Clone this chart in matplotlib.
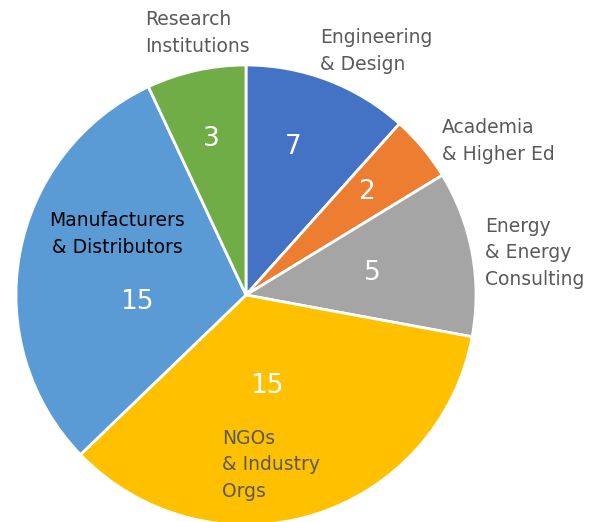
import matplotlib.pyplot as plt

# slices clockwise from 12 o'clock
categories = ['Engineering & Design', 'Academia & Higher Ed', 'Energy & Energy Consulting',
              'NGOs & Industry Orgs', 'Manufacturers & Distributors', 'Research Institutions']
# numbers printed on the slices
counts = [7, 2, 5, 15, 15, 3]
# slice sizes as drawn in the source chart (they don't follow the printed numbers)
slice_sizes = [5, 2, 5, 15, 13, 3]
colors = ['#4472C4', '#ED7D31', '#A5A5A5', '#FFC000', '#5B9BD5', '#70AD47']

labels = ['Engineering\n& Design', 'Academia\n& Higher Ed', 'Energy\n& Energy\nConsulting',
          'NGOs\n& Industry\nOrgs', 'Manufacturers\n& Distributors', 'Research\nInstitutions']

plt.rcParams['font.family'] = ['DejaVu Sans']

fig = plt.figure(figsize=(6.05, 5.22), dpi=100)
ax = fig.add_axes([0, 0, 1, 1])

CX, CY, R = 246, 295, 230

# y is inverted, so counterclock=True ends up going clockwise on screen
ax.pie(slice_sizes, colors=colors, startangle=-90, counterclock=True,
       center=(CX, CY), radius=R, frame=True,
       wedgeprops=dict(edgecolor='white', linewidth=2))
ax.set_xlim(0, 605)
ax.set_ylim(522, 0)
ax.set_aspect('equal')
ax.axis('off')

# value labels
num_pos = [(293, 147), (366, 192), (372, 273), (267, 386), (137, 302), (211, 139)]
for (x, y), v in zip(num_pos, counts):
    ax.text(x, y, str(v), color='white', fontsize=19, ha='center', va='center')

# category labels
lab_pos = [(320, 51, 'left'), (442, 141, 'left'), (485, 253, 'left'),
           (222, 465, 'left'), (117, 234, 'center'), (145, 33, 'left')]
for (x, y, ha), t, c in zip(lab_pos, labels, categories):
    col = 'black' if c.startswith('Manufacturers') else '#595959'
    ax.text(x, y, t, color=col, fontsize=13.5, ha=ha, va='center',
            linespacing=1.48, multialignment=ha)

fig.savefig('out.png', dpi=100)
